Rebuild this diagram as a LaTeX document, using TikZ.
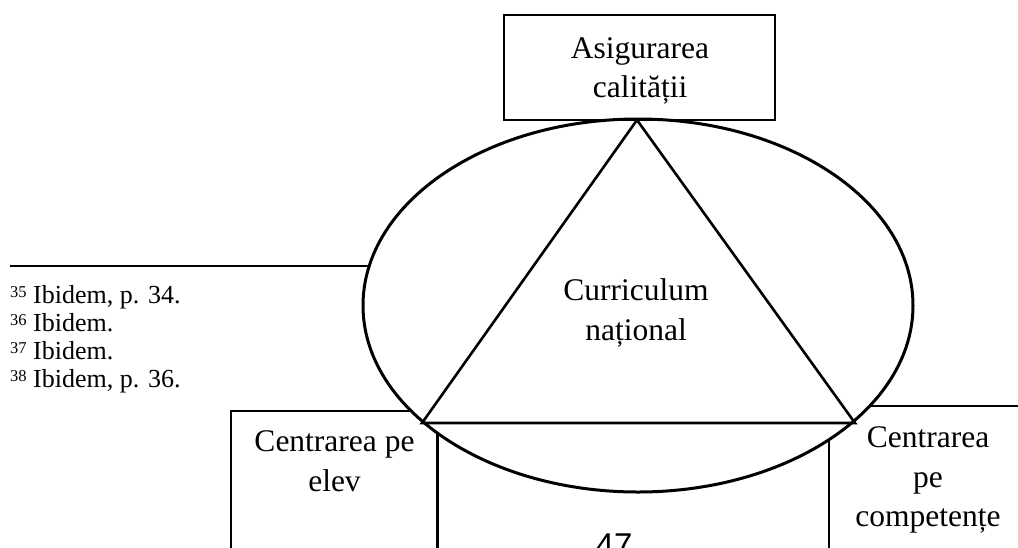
\documentclass[tikz,border=0pt]{standalone}
\usepackage{fontspec}
\setmainfont{Liberation Serif}
\newfontfamily\pagefont{Liberation Sans}
\usepackage{tikz}
\usetikzlibrary{shapes.geometric}
\usetikzlibrary{positioning}
\tikzset{
    box/.style={draw=black, line width=2.6pt, rectangle, inner sep=0pt, outer sep=0pt},
    oval/.style={draw=black, fill=white, line width=3pt, ellipse, inner sep=0pt, outer sep=0pt,
        minimum width=550pt, minimum height=373pt},
    side/.style={draw=black, line width=2.6pt, line join=miter},
    txt/.style={font=\fontsize{31.5}{39.5}\selectfont, align=center, inner sep=0pt},
    note/.style={font=\fontsize{26}{28}\selectfont, anchor=base west, inner sep=0pt},
}

\begin{document}
\begin{tikzpicture}[x=1pt, y=-1pt]
	\useasboundingbox (0,0) rectangle (1018,547);
	\clip (0,0) rectangle (1018,547);
	% footnotes
	\coordinate (rulestart) at (10,266);
	\coordinate (ruleend) at (420,266);
	\draw[line width=2.4pt] (rulestart)--(ruleend);
	\foreach \n/\t [count=\i] in {35/{Ibidem, p. 34.}, 36/{Ibidem.}, 37/{Ibidem.}, 38/{Ibidem, p. 36.}}
		\node[note] (fn\n) at (10,275+28*\i) {\raisebox{6pt}{\fontsize{16.5}{16.5}\selectfont\n} \t};
	% the three boxes under the oval
	\node[box, minimum width=207pt, minimum height=200pt, anchor=north west] (leftbox) at (231,411) {};
	\node[box, minimum width=392pt, minimum height=200pt, anchor=north west] (midbox) at (437,425) {};
	\node[box, minimum width=220pt, minimum height=200pt, anchor=north west] (rightbox) at (829,406) {};
	% oval and triangle
	\node[oval] (curric) at (638,305.5) {};
	\coordinate (apex) at (637,120);
	\coordinate (leftcorner) at (422,423);
	\coordinate (rightcorner) at (855,423);
	\draw[side] (apex) -- (leftcorner) -- (rightcorner) -- cycle;
	\node[box, minimum width=271pt, minimum height=105pt] (quality) at (639.5,67.5) {};
	% labels
	\node[txt] (qualitytext) at (640,71) {Asigurarea\\calității};
	\node[txt] (currictext) at (636,313) {Curriculum\\național};
	\node[txt] (lefttext) at (334.5,461) {Centrarea pe\\elev};
	\node[txt] (righttext) at (928,480) {Centrarea\\pe\\competențe};
	\node[font=\pagefont\fontsize{33}{33}\selectfont, anchor=base, inner sep=0pt] (pagenum) at (614,556) {47};
\end{tikzpicture}
\end{document}
